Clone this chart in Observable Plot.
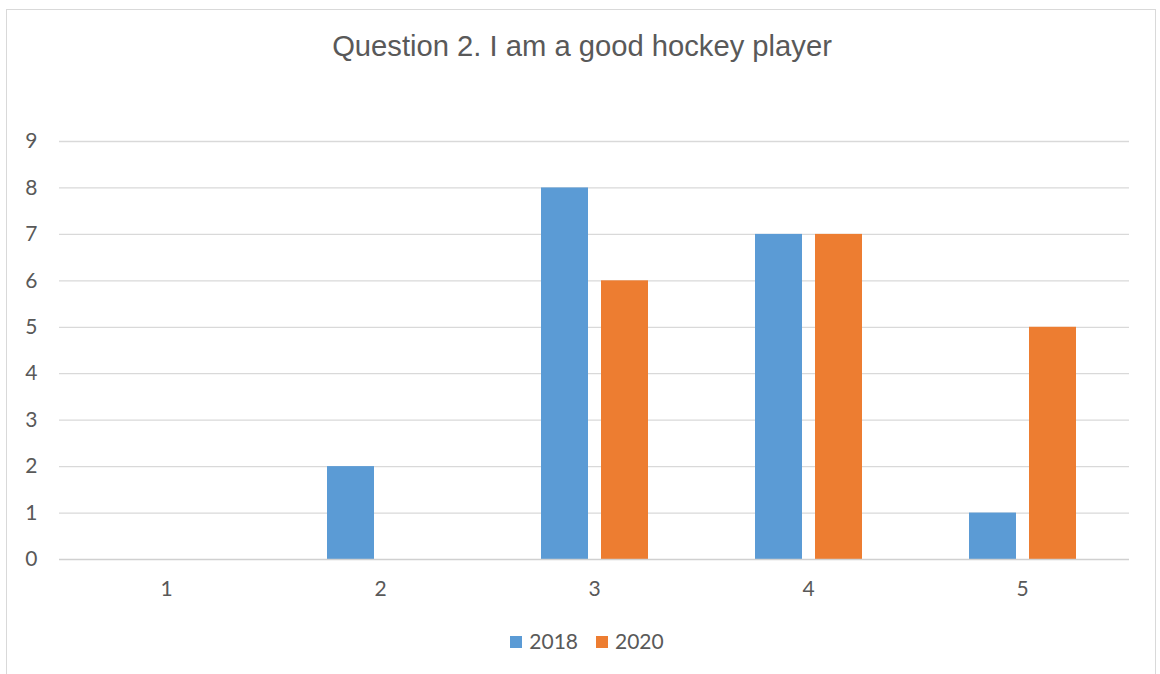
<!DOCTYPE html>
<html>
<head>
<meta charset="utf-8">
<script src="https://cdn.jsdelivr.net/npm/d3@7"></script>
<script src="https://cdn.jsdelivr.net/npm/@observablehq/plot@0.6"></script>
<style>
  html, body { margin: 0; padding: 0; background: #fff; }
  #frame {
    position: absolute; left: 6px; top: 9px; width: 1150px; height: 700px;
    border: 1.5px solid #d9d9d9; border-bottom: none; box-sizing: border-box;
  }
  #title {
    position: absolute; left: 0; top: 30px; width: 1164px; text-align: center;
    font-family: "Liberation Sans", Arial, sans-serif; font-size: 29.2px; color: #595959;
  }
  #chart { position: absolute; left: 0; top: 100px; }
  #legend {
    position: absolute; left: 0; top: 628px; width: 1174px; text-align: center;
    font-family: Lato, "Open Sans", sans-serif; font-size: 21px; color: #595959;
  }
  #legend span.sw { display: inline-block; width: 12px; height: 12px; margin-right: 7px; vertical-align: 1px; }
  #legend span.item { margin: 0 9px; }
</style>
</head>
<body>
<div id="frame"></div>
<div id="title">Question 2. I am a good hockey player</div>
<div id="chart"></div>
<div id="legend"></div>
<script>
const categories = [1, 2, 3, 4, 5];
const years = ["2018", "2020"];
const values2018 = [0, 2, 8, 7, 1];
const values2020 = [0, 0, 6, 7, 5];
const yTicks = [0, 1, 2, 3, 4, 5, 6, 7, 8, 9];
const colors = ["#5B9BD5", "#ED7D31"];

const data = [];
categories.forEach((c, i) => {
  data.push({category: c, year: years[0], value: values2018[i]});
  data.push({category: c, year: years[1], value: values2020[i]});
});

const chart = Plot.plot({
  width: 1160,
  height: 520,
  marginLeft: 58,
  marginRight: 30,
  marginTop: 41,
  marginBottom: 61,
  style: {fontFamily: "Lato, 'Open Sans', sans-serif", fontSize: "21px", color: "#595959", background: "transparent"},
  fx: {domain: categories, padding: 0, label: null},
  x: {domain: years, paddingInner: 0.22, paddingOuter: 0.88, axis: null},
  y: {domain: [0, 9], ticks: yTicks, label: null},
  color: {domain: years, range: colors},
  marks: [
    Plot.ruleY(yTicks.filter(d => d > 0), {stroke: "#d9d9d9", strokeWidth: 1.3}),
    Plot.barY(data, {fx: "category", x: "year", y: "value", fill: "year"}),
    Plot.ruleY([0], {stroke: "#d0d0d0", strokeWidth: 1.5}),
    Plot.axisY({ticks: yTicks, tickSize: 0, tickPadding: 22, label: null, fill: "#595959", fontSize: 21}),
    Plot.axisFx({anchor: "bottom", tickSize: 0, tickPadding: 22, label: null, fill: "#595959", fontSize: 21})
  ]
});
document.getElementById("chart").appendChild(chart);
d3.select(chart).selectAll("text").style("font-size", "21px").style("font-family", "Lato, 'Open Sans', sans-serif");

const legend = document.getElementById("legend");
years.forEach((y, i) => {
  const item = document.createElement("span");
  item.className = "item";
  const sw = document.createElement("span");
  sw.className = "sw";
  sw.style.background = colors[i];
  item.appendChild(sw);
  item.appendChild(document.createTextNode(y));
  legend.appendChild(item);
});
</script>
</body>
</html>
